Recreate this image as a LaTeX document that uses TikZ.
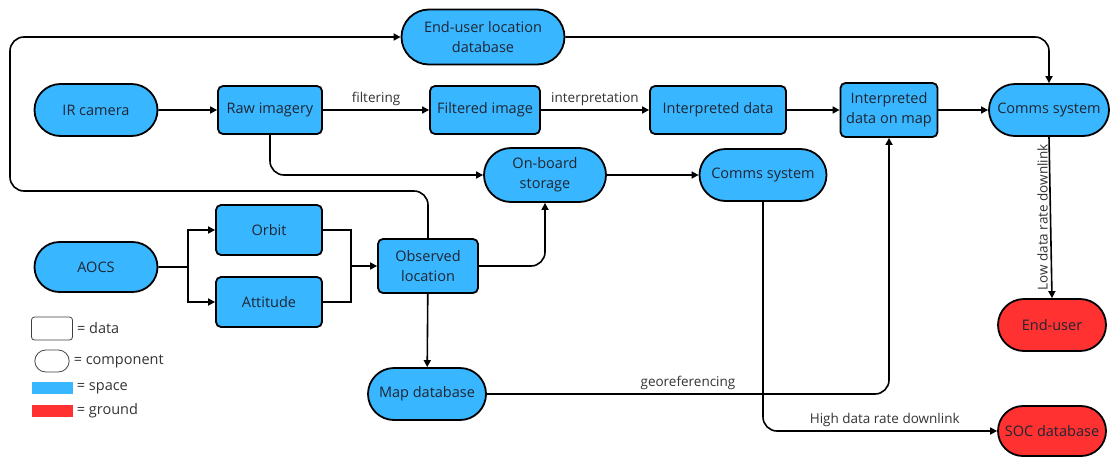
\documentclass[tikz,border=0pt]{standalone}
\usepackage{fontspec}
\setmainfont{Open Sans}
\usetikzlibrary{arrows.meta,shapes.misc,positioning}
\definecolor{spaceblue}{HTML}{38B6FF}
\definecolor{groundred}{HTML}{FF3131}
\definecolor{inktext}{HTML}{1F2633}
\tikzstyle{data}=[rectangle,rounded corners=5pt,draw=black,line width=1.8pt,fill=spaceblue,
  text=inktext,align=center,inner sep=2pt,font=\fontsize{14.5}{20}\selectfont]
\tikzstyle{component}=[rounded rectangle,draw=black,line width=1.8pt,fill=spaceblue,
  text=inktext,align=center,inner sep=2pt,font=\fontsize{14.5}{20}\selectfont]
\tikzstyle{ground}=[fill=groundred]
\tikzstyle{flow}=[line width=1.6pt,->]
\tikzstyle{lbl}=[text=black!80,font=\fontsize{13.5}{15}\selectfont,inner sep=3pt]
\tikzstyle{legtext}=[text=black!80,font=\fontsize{14.5}{16}\selectfont,anchor=west,inner sep=2pt,xshift=2pt]

\begin{document}
\begin{tikzpicture}[x=1pt,y=-1pt,>={Triangle[length=7pt,width=7pt]}]
    \useasboundingbox (0,0) rectangle (1113,458);

    % top row
    \node[component,minimum width=167pt,minimum height=55pt] (eulDb) at (483,37) {End-user location\\database};
    \node[component,minimum width=127pt,minimum height=52pt] (irCam) at (96,110) {IR camera};
    \node[data,minimum width=104pt,minimum height=48pt] (rawImg) at (270,110) {Raw imagery};
    \node[data,minimum width=110pt,minimum height=48pt] (filtImg) at (485,110) {Filtered image};
    \node[data,minimum width=136pt,minimum height=48pt] (interpData) at (718,110) {Interpreted data};
    \node[data,minimum width=97pt,minimum height=54pt] (interpMap) at (889,110) {Interpreted\\data on map};
    \node[component,minimum width=124pt,minimum height=52pt] (commsTop) at (1049,110) {Comms system};

    % middle row
    \node[component,minimum width=126pt,minimum height=54pt] (obStore) at (545,175) {On-board\\storage};
    \node[component,minimum width=131pt,minimum height=52pt] (commsMid) at (763,175) {Comms system};
    \node[data,minimum width=106pt,minimum height=50pt] (orbit) at (269,230) {Orbit};
    \node[component,minimum width=127pt,minimum height=50pt] (aocs) at (96,267) {AOCS};
    \node[data,minimum width=100pt,minimum height=54pt] (obsLoc) at (428,266) {Observed\\location};
    \node[data,minimum width=106pt,minimum height=50pt] (attitude) at (269,302) {Attitude};

    % bottom row
    \node[component,minimum width=122pt,minimum height=52pt] (mapDb) at (427,394) {Map database};
    \node[component,ground,minimum width=112pt,minimum height=52pt] (endUser) at (1052,325) {End-user};
    \node[component,ground,minimum width=112pt,minimum height=50pt] (socDb) at (1052,431) {SOC database};

    % helper points
    \coordinate (fork) at (188,267);
    \coordinate (join) at (351,266);
    \coordinate (loopCorner) at (10,191);

    % connectors
    \draw[flow] (irCam) -- (rawImg);
    \draw[flow] (rawImg) -- node[lbl,above]{filtering} (filtImg);
    \draw[flow] (filtImg) -- node[lbl,above]{interpretation} (interpData);
    \draw[flow] (interpData) -- (interpMap);
    \draw[flow] (interpMap) -- (commsTop);
    \draw[flow,rounded corners=14pt] (eulDb.east) -| (commsTop.north);
    \draw[flow,rounded corners=14pt] (rawImg.south) |- (obStore.west);
    \draw[flow] (obStore) -- (commsMid);
    \draw[line width=1.6pt] (aocs) -- (fork);
    \draw[flow] (fork) |- (orbit.west);
    \draw[flow] (fork) |- (attitude.west);
    \draw[line width=1.6pt] (orbit.east) -| (join);
    \draw[line width=1.6pt] (attitude.east) -| (join);
    \draw[flow] (join) -- (obsLoc.west);
    \draw[flow,rounded corners=14pt] (obsLoc.east) -| (obStore.south);
    \draw[flow] (obsLoc) -- (mapDb);
    \draw[flow,rounded corners=14pt] (obsLoc.north) |- (loopCorner) |- (eulDb.west);
    \draw[flow,rounded corners=14pt] (mapDb.east) -| node[lbl,above,pos=0.25]{georeferencing} (interpMap.south);
    \draw[flow,rounded corners=14pt] (commsMid.south) |- node[lbl,above,pos=0.76]{High data rate downlink} (socDb.west);
    \draw[flow] (commsTop.south) -- node[lbl,rotate=90,anchor=south,pos=0.5,inner sep=2pt]{Low data rate downlink} (endUser.north);

    % legend
    \node[rectangle,rounded corners=3pt,draw=black!75,line width=0.8pt,minimum width=41pt,minimum height=23pt] (legData) at (52,328.5) {};
    \node[legtext] (legDataTxt) at (legData.east) {= data};
    \node[rounded rectangle,draw=black!75,line width=0.8pt,minimum width=41pt,minimum height=22pt] (legComp) at (52,361) {};
    \node[legtext] (legCompTxt) at (legComp.east) {= component};
    \node[rectangle,fill=spaceblue,minimum width=41pt,minimum height=12pt,inner sep=0pt] (legSpace) at (52,388) {};
    \node[legtext] (legSpaceTxt) at (legSpace.east) {= space};
    \node[rectangle,fill=groundred,minimum width=41pt,minimum height=12pt,inner sep=0pt] (legGround) at (52,411) {};
    \node[legtext] (legGroundTxt) at (legGround.east) {= ground};
\end{tikzpicture}
\end{document}
